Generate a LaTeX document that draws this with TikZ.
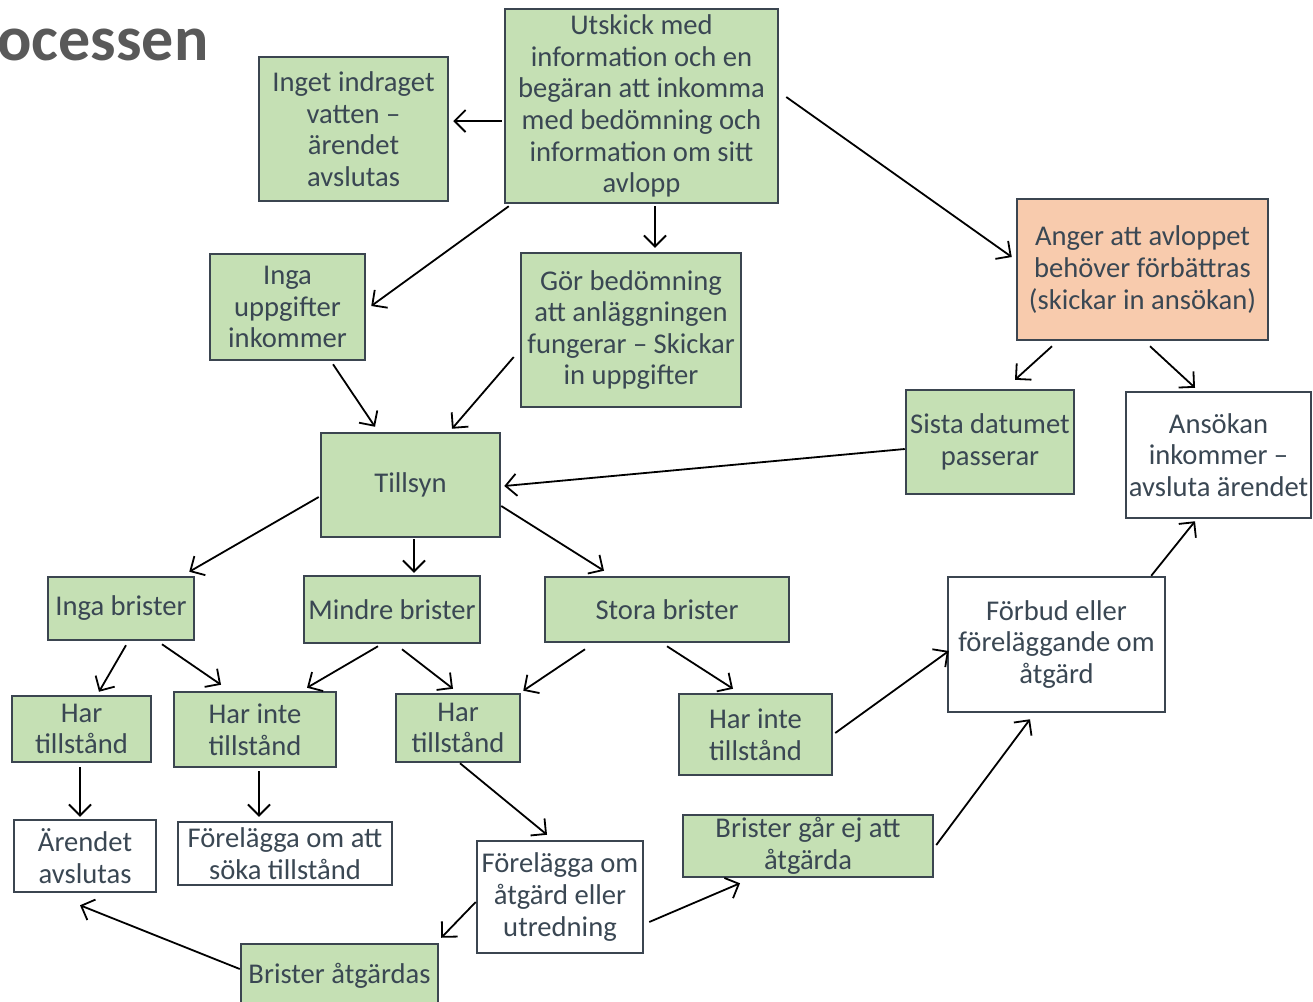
\documentclass[tikz,border=0pt]{standalone}
\usepackage{fontspec}
\setmainfont{Carlito}
\usetikzlibrary{arrows.meta}
\definecolor{boxgreen}{HTML}{C5E0B4}
\definecolor{boxorange}{HTML}{F8CBAD}
\definecolor{boxline}{HTML}{3B4550}
\definecolor{boxtext}{HTML}{3A4753}
\definecolor{titlegray}{HTML}{595959}
\begin{document}
\begin{tikzpicture}[x=0.5pt, y=-0.5pt,
    box/.style={draw=boxline, line width=1.25pt, inner sep=0pt, align=center,
      text=boxtext, font=\fontsize{14.3pt}{15.8pt}\selectfont},
    greenbox/.style={box, fill=boxgreen},
    orangebox/.style={box, fill=boxorange},
    whitebox/.style={box, fill=white},
    flow/.style={-{Straight Barb[length=5.5pt, width=11pt]}, line width=0.9pt, black}]
  \useasboundingbox (0,0) rectangle (1313,1002);

  \node[anchor=base west, inner sep=0pt, text=titlegray,
    font=\fontsize{32pt}{36pt}\selectfont\bfseries] (title) at (-3,60) {ocessen};

  % top row
  \node[greenbox, minimum width=94.5pt, minimum height=72pt] (inget) at (353.5,129)
    {Inget indraget\\vatten –\\ärendet\\avslutas};
  \node[greenbox, minimum width=136.5pt, minimum height=97pt] (utskick) at (641.5,106)
    {Utskick med\\information och en\\begäran att inkomma\\med bedömning och\\information om sitt\\avlopp};
  \node[orangebox, minimum width=125.5pt, minimum height=70.5pt] (anger) at (1142.5,269.5)
    {Anger att avloppet\\behöver förbättras\\(skickar in ansökan)};
  \node[greenbox, minimum width=77.5pt, minimum height=53pt] (uppgifter) at (287.5,307)
    {Inga\\uppgifter\\inkommer};
  \node[greenbox, minimum width=110pt, minimum height=77pt] (bedomning) at (631,330)
    {Gör bedömning\\att anläggningen\\fungerar – Skickar\\in uppgifter};
  \node[greenbox, minimum width=84pt, minimum height=52pt] (sista) at (990,442)
    {Sista datumet\\passerar};
  \node[whitebox, minimum width=92.5pt, minimum height=63pt] (ansokan) at (1218.5,455)
    {Ansökan\\inkommer –\\avsluta ärendet};
  \node[greenbox, minimum width=89.5pt, minimum height=52pt] (tillsyn) at (410.5,485) {Tillsyn};

  % brister
  \node[greenbox, minimum width=73pt, minimum height=31.5pt] (inga) at (121,608.5) {Inga brister};
  \node[greenbox, minimum width=88pt, minimum height=33.5pt] (mindre) at (392,609.5) {Mindre brister};
  \node[greenbox, minimum width=122pt, minimum height=32.5pt] (stora) at (667,609.5) {Stora brister};
  \node[whitebox, minimum width=108.5pt, minimum height=67.5pt] (forbud) at (1056.5,644.5)
    {Förbud eller\\föreläggande om\\åtgärd};

  % tillstand
  \node[greenbox, minimum width=69.5pt, minimum height=33pt] (hartA) at (81.5,729) {Har\\tillstånd};
  \node[greenbox, minimum width=81pt, minimum height=37.5pt] (harinteA) at (255,729.5) {Har inte\\tillstånd};
  \node[greenbox, minimum width=62pt, minimum height=34pt] (hartB) at (458,728) {Har\\tillstånd};
  \node[greenbox, minimum width=76.5pt, minimum height=40.5pt] (harinteB) at (755.5,734.5) {Har inte\\tillstånd};

  % bottom
  \node[whitebox, minimum width=71pt, minimum height=36pt] (avslutas) at (85,856) {Ärendet\\avslutas};
  \node[whitebox, minimum width=107pt, minimum height=31.5pt] (soka) at (285,853.5)
    {Förelägga om att\\söka tillstånd};
  \node[whitebox, minimum width=83pt, minimum height=56pt] (atgard) at (560,897)
    {Förelägga om\\åtgärd eller\\utredning};
  \node[greenbox, minimum width=125pt, minimum height=31pt] (garej) at (808,846)
    {Brister går ej att\\åtgärda};
  \node[greenbox, minimum width=98.5pt, minimum height=32pt] (atgardas) at (339.5,976) {Brister åtgärdas};

  % connectors
  \draw[flow] ([shift={(-2,15)}]utskick.west) -- ([shift={(4,-8)}]inget.east);
  \draw[flow] ([shift={(7,-9)}]utskick.east) -- ([shift={(-4,-12.5)}]anger.west);
  \draw[flow] ([shift={(13.5,2)}]utskick.south) -- ([shift={(24,-4)}]bedomning.north);
  \draw[flow] ([shift={(5,2)}]utskick.south west) -- ([shift={(5,-1)}]uppgifter.east);
  \draw[flow] ([shift={(45.5,3)}]uppgifter.south) -- ([shift={(-35.5,-5)}]tillsyn.north);
  \draw[flow] ([shift={(-6,27)}]bedomning.west) -- ([shift={(41.5,-3)}]tillsyn.north);
  \draw[flow] ([shift={(-90.5,5)}]anger.south) -- ([shift={(25,-9)}]sista.north);
  \draw[flow] ([shift={(7.5,5)}]anger.south) -- ([shift={(-23.5,-3)}]ansokan.north);
  \draw[flow] ([shift={(0,7)}]sista.west) -- ([shift={(3,1)}]tillsyn.east);
  \draw[flow] ([shift={(-1,12)}]tillsyn.west) -- ([shift={(-6,-4)}]inga.north east);
  \draw[flow] ([shift={(3.5,1)}]tillsyn.south) -- ([shift={(22,-2)}]mindre.north);
  \draw[flow] ([shift={(0,21)}]tillsyn.east) -- ([shift={(-63,-5)}]stora.north);
  \draw[flow] ([shift={(5,4)}]inga.south) -- ([shift={(17.5,-3)}]hartA.north);
  \draw[flow] ([shift={(41,3)}]inga.south) -- ([shift={(-34,-6)}]harinteA.north);
  \draw[flow] ([shift={(-14,2)}]mindre.south) -- ([shift={(52,-3)}]harinteA.north);
  \draw[flow] ([shift={(10,5)}]mindre.south) -- ([shift={(-5,-4)}]hartB.north);
  \draw[flow] ([shift={(-82,6)}]stora.south) -- ([shift={(2,-2)}]hartB.north east);
  \draw[flow] ([shift={(0,3)}]stora.south) -- ([shift={(-22.5,-4)}]harinteB.north);
  \draw[flow] ([shift={(-1.5,4)}]hartA.south) -- ([shift={(-5,-2)}]avslutas.north);
  \draw[flow] ([shift={(4,3)}]harinteA.south) -- ([shift={(-26,-4)}]soka.north);
  \draw[flow] ([shift={(2,0)}]hartB.south) -- ([shift={(-13,-5)}]atgard.north);
  \draw[flow] ([shift={(0,5)}]atgard.west) -- ([shift={(2,-5)}]atgardas.north east);
  \draw[flow] ([shift={(5,25)}]atgard.east) -- ([shift={(-68,5)}]garej.south);
  \draw[flow] ([shift={(0,-7)}]atgardas.west) -- ([shift={(-5,12)}]avslutas.south);
  \draw[flow] ([shift={(2,-1.5)}]harinteB.east) -- ([shift={(2,6.5)}]forbud.west);
  \draw[flow] ([shift={(2,-1)}]garej.east) -- ([shift={(-26.5,6)}]forbud.south);
  \draw[flow] ([shift={(-15,0)}]forbud.north east) -- ([shift={(-23.5,2)}]ansokan.south);
\end{tikzpicture}
\end{document}
